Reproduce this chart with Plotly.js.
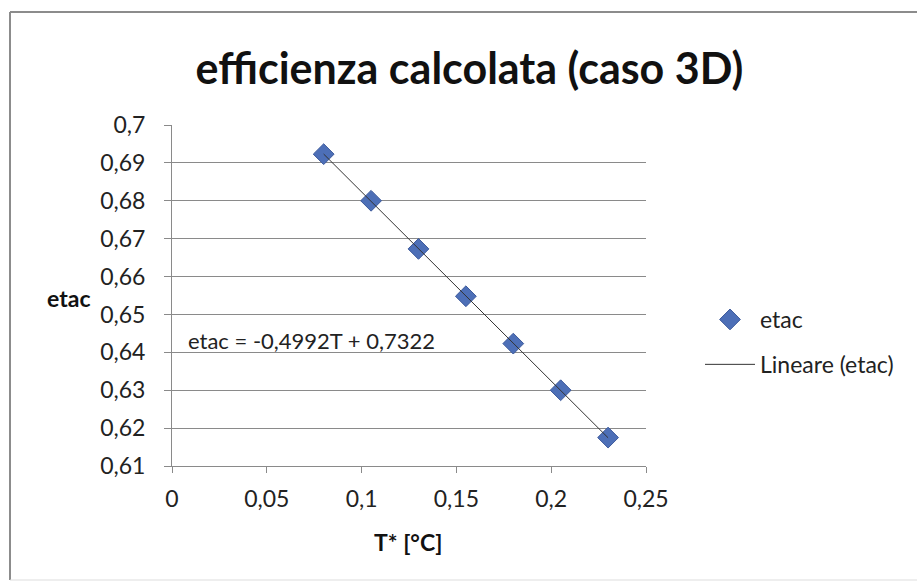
<!DOCTYPE html>
<html>
<head>
<meta charset="utf-8">
<script src="https://cdn.plot.ly/plotly-3.0.1.min.js"></script>
<style>
html,body{margin:0;padding:0;background:#fff;}
#chart{width:917px;height:582px;}
</style>
</head>
<body>
<div id="chart"></div>
<script>
// Data
var seriesName = "etac";
var trendName = "Lineare (etac)";
var tStar = [0.08, 0.105, 0.13, 0.155, 0.18, 0.205, 0.23];
var etac = [0.6923, 0.6800, 0.6673, 0.6548, 0.6423, 0.6300, 0.6175];
var xTicks = [0, 0.05, 0.1, 0.15, 0.2, 0.25];
var yTicks = [0.61, 0.62, 0.63, 0.64, 0.65, 0.66, 0.67, 0.68, 0.69, 0.7];
var titleText = "efficienza calcolata (caso 3D)";
var xTitle = "T* [°C]";
var yTitle = "etac";
var equationText = "etac = -0,4992T + 0,7322";

// least-squares trendline (as the spreadsheet does)
var n = tStar.length, sx = 0, sy = 0, sxx = 0, sxy = 0;
for (var i = 0; i < n; i++) { sx += tStar[i]; sy += etac[i]; sxx += tStar[i]*tStar[i]; sxy += tStar[i]*etac[i]; }
var slope = (n*sxy - sx*sy) / (n*sxx - sx*sx);
var icpt = (sy - slope*sx) / n;
var xMin = Math.min.apply(null, tStar), xMax = Math.max.apply(null, tStar);
var trendX = [xMin, xMax];
var trendY = [icpt + slope*xMin, icpt + slope*xMax];

var FONT = "Lato, 'Open Sans', sans-serif";

var traces = [
  {
    x: tStar, y: etac, type: "scatter", mode: "markers", name: seriesName,
    legendgroup: "a",
    marker: {symbol: "diamond", size: 16, color: "#4d6fb7", line: {color: "#3d5a9c", width: 1}}
  },
  {
    x: trendX, y: trendY, type: "scatter", mode: "lines", name: trendName,
    legendgroup: "b",
    line: {color: "#333333", width: 1}
  }
];

// plot area in pixels
var L = 172, R = 271, T = 125, B = 116;
var W = 917 - L - R, H = 582 - T - B;
function px2x(p){ return (p - L) / W; }
function px2y(p){ return (582 - B - p) / H; }

var layout = {
  width: 917, height: 582,
  margin: {l: L, r: R, t: T, b: B, pad: 0},
  paper_bgcolor: "#ffffff", plot_bgcolor: "#ffffff",
  separators: ",.",
  font: {family: FONT, size: 23, color: "#222"},
  title: {text: titleText, font: {family: FONT, size: 43, color: "#111", weight: "bold"},
          x: 0.512, xanchor: "center", y: 1 - 69/582, yanchor: "middle"},
  showlegend: true,
  legend: {x: px2x(700), y: px2y(298), xanchor: "left", yanchor: "top",
           font: {family: FONT, size: 23, color: "#222"}, bgcolor: "rgba(0,0,0,0)",
           tracegroupgap: 12, itemwidth: 50, traceorder: "grouped"},
  xaxis: {
    range: [0, 0.25], tickvals: xTicks, tickformat: ".2~f",
    showgrid: false, zeroline: false, showline: true, linecolor: "#8a8a8a", linewidth: 1,
    ticks: "outside", ticklen: 6, tickcolor: "#8a8a8a",
    tickfont: {family: FONT, size: 23, color: "#222"}, ticklabelstandoff: 6,
    fixedrange: true
  },
  yaxis: {
    range: [0.61, 0.7], tickvals: yTicks, tickformat: ".2~f",
    showgrid: true, gridcolor: "#8a8a8a", gridwidth: 1,
    zeroline: false, showline: true, linecolor: "#8a8a8a", linewidth: 1,
    ticks: "outside", ticklen: 7, tickcolor: "#8a8a8a",
    tickfont: {family: FONT, size: 23, color: "#222"}, ticklabelstandoff: 14,
    fixedrange: true
  },
  annotations: [
    {text: yTitle, xref: "paper", yref: "paper", x: px2x(68), y: px2y(298),
     xanchor: "center", yanchor: "middle", showarrow: false,
     font: {family: FONT, size: 23, color: "#111", weight: "bold"}},
    {text: xTitle, xref: "paper", yref: "paper", x: px2x(408), y: px2y(542),
     xanchor: "center", yanchor: "middle", showarrow: false,
     font: {family: FONT, size: 23, color: "#111", weight: "bold"}},
    {text: equationText, xref: "paper", yref: "paper", x: px2x(186), y: px2y(340),
     xanchor: "left", yanchor: "middle", showarrow: false,
     font: {family: FONT, size: 22, color: "#222"}}
  ],
  shapes: [
    {type: "line", xref: "paper", yref: "paper", x0: px2x(10), x1: px2x(930), y0: px2y(12), y1: px2y(12),
     line: {color: "#8c8c8c", width: 2}},
    {type: "line", xref: "paper", yref: "paper", x0: px2x(10), x1: px2x(10), y0: px2y(12), y1: px2y(580),
     line: {color: "#8c8c8c", width: 2}},
    {type: "line", xref: "paper", yref: "paper", x0: px2x(10), x1: px2x(930), y0: px2y(580), y1: px2y(580),
     line: {color: "#dddddd", width: 1}}
  ]
};

Plotly.newPlot("chart", traces, layout, {displayModeBar: false, staticPlot: true});
</script>
</body>
</html>
